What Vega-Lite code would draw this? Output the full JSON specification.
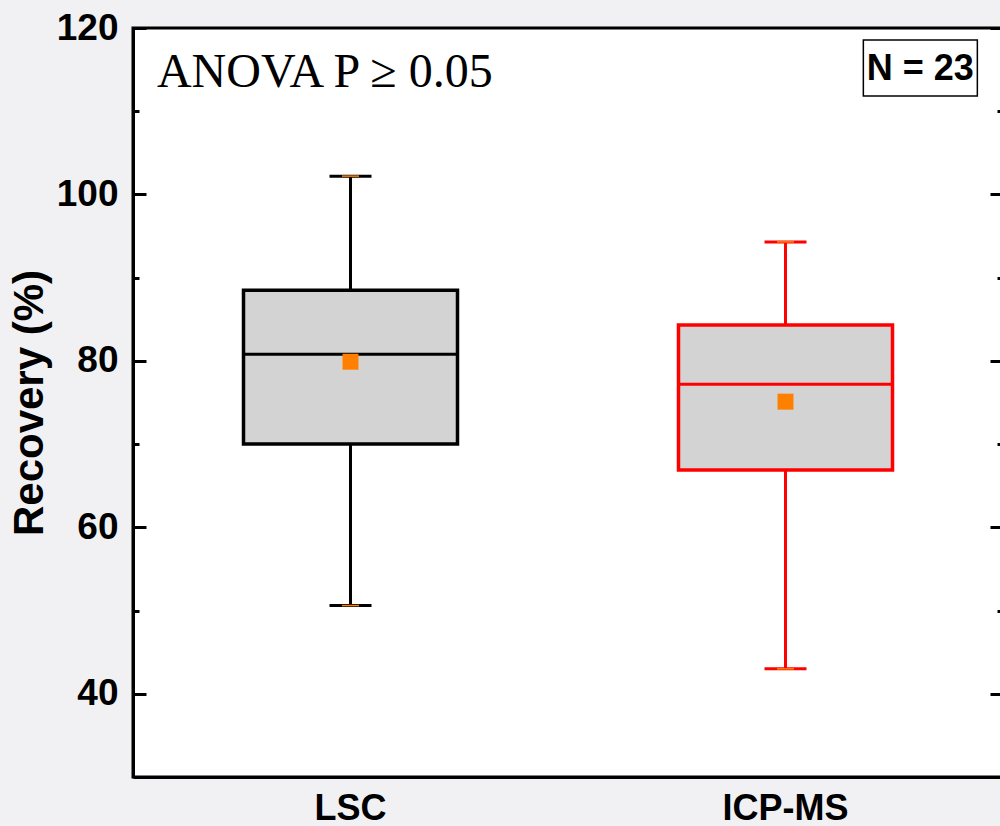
{
  "$schema": "https://vega.github.io/schema/vega-lite/v6.json",
  "autosize": {"type": "none"},
  "padding": {"left": 133, "top": 28, "right": 0, "bottom": 49},
  "width": 870,
  "height": 749,
  "background": "#f1f1f3",
  "config": {
    "view": {"stroke": "black", "strokeWidth": 3, "fill": "white"},
    "font": "Liberation Sans"
  },
  "data": {
    "values": [
      {"group": "LSC", "lower": 50.6, "q1": 70.0, "median": 80.8, "q3": 88.5, "upper": 102.2, "mean": 79.9, "color": "black"},
      {"group": "ICP-MS", "lower": 43.0, "q1": 66.9, "median": 77.2, "q3": 84.3, "upper": 94.3, "mean": 75.1, "color": "red"}
    ]
  },
  "resolve": {"axis": {"x": "independent", "y": "independent"}},
  "layer": [
    {
      "mark": {"type": "rule", "strokeWidth": 3},
      "encoding": {
        "x": {"field": "group", "type": "nominal", "sort": ["LSC", "ICP-MS"],
          "scale": {"domain": ["LSC", "ICP-MS"], "paddingInner": 0, "paddingOuter": 0},
          "axis": {"title": null, "orient": "bottom", "ticks": false, "labelAngle": 0,
            "labelFont": "Liberation Sans", "labelFontWeight": "bold", "labelFontSize": 36, "labelColor": "black",
            "labelPadding": 14, "domainColor": "black", "domainWidth": 3, "labelBaseline": "top"}},
        "y": {"field": "lower", "type": "quantitative",
          "scale": {"domain": [30, 120], "nice": false, "zero": false},
          "axis": {"orient": "left", "title": "Recovery (%)", "values": [40, 60, 80, 100, 120],
            "grid": false, "tickSize": -13, "tickWidth": 3, "tickColor": "black",
            "domainColor": "black", "domainWidth": 3,
            "labelFont": "Liberation Sans", "labelFontWeight": "bold", "labelFontSize": 37, "labelColor": "black",
            "labelPadding": 28, "labelFlush": false,
            "titleFont": "Liberation Sans", "titleFontWeight": "bold", "titleFontSize": 42, "titleColor": "black",
            "titlePadding": 5}},
        "y2": {"field": "upper"},
        "color": {"field": "color", "type": "nominal", "scale": null}
      }
    },
    {
      "mark": {"type": "bar", "fill": "#d3d3d3", "strokeWidth": 3.5, "size": 214},
      "encoding": {
        "x": {"field": "group", "type": "nominal", "sort": ["LSC", "ICP-MS"], "axis": null},
        "y": {"field": "q1", "type": "quantitative",
          "axis": {"orient": "left", "values": [50, 70, 90, 110], "labels": false, "domain": false, "grid": false,
            "tickSize": -6, "tickWidth": 3, "tickColor": "black", "title": null}},
        "y2": {"field": "q3"},
        "stroke": {"field": "color", "type": "nominal", "scale": null}
      }
    },
    {
      "mark": {"type": "tick", "thickness": 3, "size": 214, "opacity": 1},
      "encoding": {
        "x": {"field": "group", "type": "nominal", "sort": ["LSC", "ICP-MS"], "axis": null},
        "y": {"field": "median", "type": "quantitative",
          "axis": {"orient": "right", "values": [40, 60, 80, 100, 120], "labels": false, "domain": true,
            "domainColor": "black", "domainWidth": 3, "grid": false,
            "tickSize": -13, "tickWidth": 3, "tickColor": "black", "title": null}},
        "color": {"field": "color", "type": "nominal", "scale": null}
      }
    },
    {
      "mark": {"type": "tick", "thickness": 3, "size": 42, "opacity": 1},
      "encoding": {
        "x": {"field": "group", "type": "nominal", "sort": ["LSC", "ICP-MS"], "axis": null},
        "y": {"field": "upper", "type": "quantitative",
          "axis": {"orient": "right", "values": [50, 70, 90, 110], "labels": false, "domain": false, "grid": false,
            "tickSize": -6, "tickWidth": 3, "tickColor": "black", "title": null}},
        "color": {"field": "color", "type": "nominal", "scale": null}
      }
    },
    {
      "mark": {"type": "tick", "thickness": 3, "size": 42, "opacity": 1},
      "encoding": {
        "x": {"field": "group", "type": "nominal", "sort": ["LSC", "ICP-MS"], "axis": null},
        "y": {"field": "lower", "type": "quantitative", "axis": null},
        "color": {"field": "color", "type": "nominal", "scale": null}
      }
    },
    {
      "mark": {"type": "tick", "thickness": 1.5, "size": 17, "color": "#ff8000", "opacity": 1},
      "encoding": {
        "x": {"field": "group", "type": "nominal", "sort": ["LSC", "ICP-MS"], "axis": null},
        "y": {"field": "upper", "type": "quantitative", "axis": null}
      }
    },
    {
      "mark": {"type": "tick", "thickness": 1.5, "size": 17, "color": "#ff8000", "opacity": 1},
      "encoding": {
        "x": {"field": "group", "type": "nominal", "sort": ["LSC", "ICP-MS"], "axis": null},
        "y": {"field": "lower", "type": "quantitative", "axis": null}
      }
    },
    {
      "mark": {"type": "point", "shape": "square", "filled": true, "size": 256, "color": "#ff8000", "opacity": 1},
      "encoding": {
        "x": {"field": "group", "type": "nominal", "sort": ["LSC", "ICP-MS"], "axis": null},
        "y": {"field": "mean", "type": "quantitative", "axis": null}
      }
    },
    {
      "data": {"values": [{"group": "LSC", "value": 112.9, "label": "ANOVA P ≥ 0.05"}]},
      "mark": {"type": "text", "font": "Liberation Serif", "fontSize": 48, "align": "left", "baseline": "alphabetic", "color": "black"},
      "encoding": {
        "x": {"field": "group", "type": "nominal", "bandPosition": 0.055, "axis": null},
        "y": {"field": "value", "type": "quantitative", "axis": null},
        "text": {"field": "label"}
      }
    },
    {
      "data": {"values": [{"group": "ICP-MS", "value": 115.2, "label": "N = 23"}]},
      "mark": {"type": "point", "shape": "M-1,-0.49H1V0.49H-1Z", "size": 12996, "filled": false, "fill": "white", "fillOpacity": 1, "stroke": "black", "strokeWidth": 1.5, "opacity": 1},
      "encoding": {
        "x": {"field": "group", "type": "nominal", "bandPosition": 0.81, "axis": null},
        "y": {"field": "value", "type": "quantitative", "axis": null}
      }
    },
    {
      "data": {"values": [{"group": "ICP-MS", "value": 115.2, "label": "N = 23"}]},
      "mark": {"type": "text", "font": "Liberation Sans", "fontWeight": "bold", "fontSize": 36, "align": "center", "baseline": "middle", "dy": 1, "color": "black"},
      "encoding": {
        "x": {"field": "group", "type": "nominal", "bandPosition": 0.81, "axis": null},
        "y": {"field": "value", "type": "quantitative", "axis": null},
        "text": {"field": "label"}
      }
    }
  ]
}
